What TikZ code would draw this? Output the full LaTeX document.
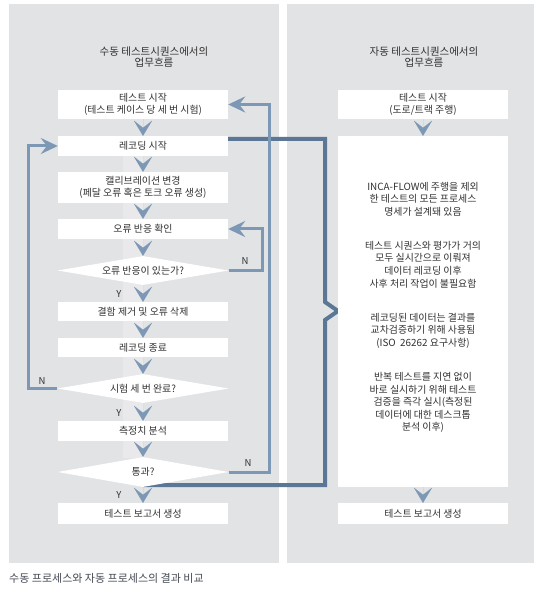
\documentclass[tikz,border=0pt]{standalone}
\usepackage{fontspec}
\setmainfont{Noto Sans CJK KR}
\usetikzlibrary{arrows.meta,shapes.geometric}
\definecolor{panel}{RGB}{226,227,229}
\definecolor{strip}{RGB}{233,233,235}
\definecolor{lblue}{RGB}{124,152,181}
\definecolor{dblue}{RGB}{92,119,149}
\definecolor{txt}{RGB}{50,50,50}
\definecolor{captxt}{RGB}{70,75,85}
\pgfdeclarelayer{bg}
\pgfsetlayers{bg,main}
\tikzset{
  box/.style={fill=white, minimum width=170pt, inner sep=0pt, align=center, text=txt,
    font=\fontsize{9.9}{11.5}\selectfont},
  dia/.style={shape=diamond, aspect=6, fill=white, minimum width=171pt, inner sep=0pt,
    align=center, text=txt, font=\fontsize{9.9}{11.5}\selectfont},
  para/.style={align=center, text=txt, inner sep=0pt, font=\fontsize{9.9}{12.6}\selectfont},
  head/.style={align=center, text=txt, inner sep=0pt, font=\fontsize{10.5}{11}\selectfont},
  lbl/.style={text=txt, inner sep=0pt, font=\fontsize{9.5}{10}\selectfont},
  chev/.style={draw=lblue, line width=0.01pt, -{Stealth[length=15pt,width=18pt,inset=7pt,fill=lblue]}},
  loopline/.style={draw=lblue, line width=3pt, line join=miter, -{Stealth[length=17pt,width=16pt,inset=6pt]}},
  darkline/.style={draw=dblue, line width=4pt, line join=miter}
}
\begin{document}
\begin{tikzpicture}[x=1pt,y=-1pt]
\useasboundingbox (0,0) rectangle (546,601);

% headers
\node[head] (hl) at (154,57) {수동 테스트시퀀스에서의\\업무흐름};
\node[head] (hr) at (424,57) {자동 테스트시퀀스에서의\\업무흐름};

% left column
\node[box, minimum height=29pt] (b1) at (143,104.5) {테스트 시작\\(테스트 케이스 당 세 번 시험)};
\node[box, minimum height=20pt] (b2) at (143,146) {레코딩 시작};
\node[box, minimum height=31pt] (b3) at (143,187.5) {캘리브레이션 변경\\(페달 오류 혹은 토크 오류 생성)};
\node[box, minimum height=20pt] (b4) at (143,229) {오류 반응 확인};
\node[dia, minimum height=29pt] (d1) at (143,270.5) {오류 반응이 있는가?};
\node[box, minimum height=19pt] (b5) at (143,311.5) {결함 제거 및 오류 삭제};
\node[box, minimum height=19pt] (b6) at (143,347.5) {레코딩 종료};
\node[dia, minimum height=29pt] (d2) at (143,388.5) {시험 세 번 완료?};
\node[box, minimum height=20pt] (b7) at (143,431) {측정치 분석};
\node[dia, minimum height=30pt] (d3) at (143,472) {통과?};
\node[box, minimum height=21pt] (b8) at (143,513.5) {테스트 보고서 생성};

% right column
\node[box, minimum height=29pt] (r1) at (423,104.5) {테스트 시작\\(도로/트랙 주행)};
\node[box, minimum height=351pt] (r2) at (423,311.5) {};
\node[box, minimum height=21pt] (r3) at (423,513.5) {테스트 보고서 생성};
\node[para] (p1) at (423,199) {INCA-FLOW에 주행을 제외\\한 테스트의 모든 프로세스\\명세가 설계돼 있음};
\node[para] (p2) at (423,264.5) {테스트 시퀀스와 평가가 거의\\모두 실시간으로 이뤄져\\데이터 레코딩 이후\\사후 처리 작업이 불필요함};
\node[para] (p3) at (423,330.5) {레코딩된 데이터는 결과를\\교차검증하기 위해 사용됨\\(ISO\ \ 26262 요구사항)};
\node[para] (p4) at (423,402.5) {반복 테스트를 지연 없이\\바로 실시하기 위해 테스트\\검증을 즉각 실시(측정된\\데이터에 대한 데스크톱\\분석 이후)};

% chevron connectors
\draw[chev] (b1.south) -- (b2.north);
\draw[chev] (b2.south) -- (b3.north);
\draw[chev] (b3.south) -- (b4.north);
\draw[chev] (b4.south) -- (d1.north);
\draw[chev] (d1.south) -- (b5.north);
\draw[chev] (b5.south) -- (b6.north);
\draw[chev] (b6.south) -- (d2.north);
\draw[chev] (d2.south) -- (b7.north);
\draw[chev] (b7.south) -- (d3.north);
\draw[chev] (d3.south) -- (b8.north);
\draw[chev] (r1.south) -- (r2.north);
\draw[chev] (r2.south) -- (r3.north);

% labels
\node[lbl] (n1) at (245,261) {N};
\node[lbl] (n2) at (42,381) {N};
\node[lbl] (n3) at (248,463) {N};
\node[lbl] (y1) at (119,294) {Y};
\node[lbl] (y2) at (119,413) {Y};
\node[lbl] (y3) at (119,495) {Y};

% caption
\node[anchor=west, inner sep=0pt, text=captxt, font=\fontsize{11}{12}\selectfont] (cap) at (9,578) {수동 프로세스와 자동 프로세스의 결과 비교};

\coordinate (nt) at (325,302);
\coordinate (np) at (338,311);
\coordinate (nb) at (325,320);
\coordinate (db) at (325,485);

\begin{pgfonlayer}{bg}
\fill[white] (0,0) rectangle (546,601);
\fill[panel] (9,4) rectangle (279,563);
\fill[panel] (287,4) rectangle (534,563);
\fill[strip] (123,156) rectangle (144,458);
\draw[darkline] ([yshift=7pt]b2.east) -| (nt) -- (np) -- (nb) -- (db) -- ([yshift=2pt]d3.south);
\draw[loopline] (d1.east) -- ++(34,0) |- (b4.east);
\draw[loopline] (d2.west) -- ++(-29,0) |- (b2.west);
\draw[loopline] (d3.east) -- ++(41,0) |- (b1.east);
\end{pgfonlayer}
\end{tikzpicture}
\end{document}
